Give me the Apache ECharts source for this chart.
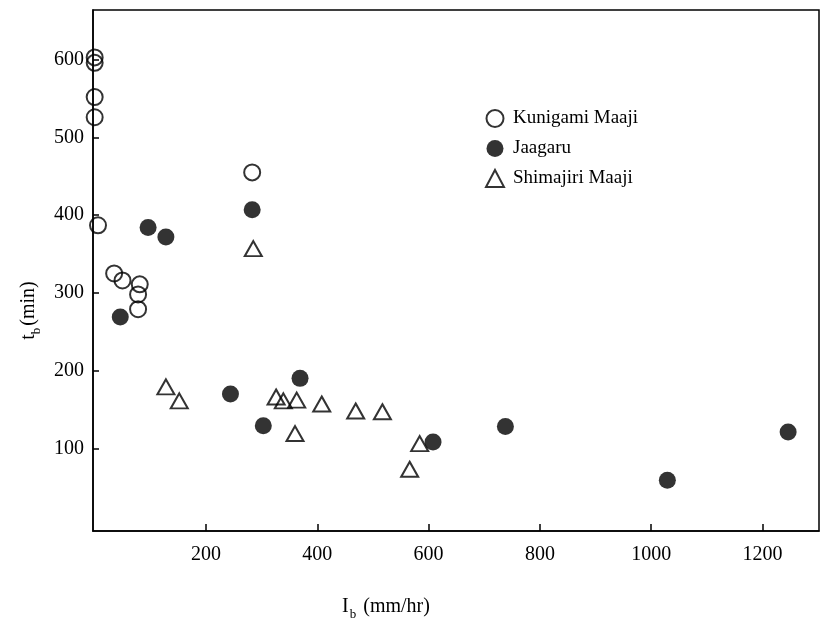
<!DOCTYPE html>
<html>
<head>
<meta charset="utf-8">
<script src="https://cdn.jsdelivr.net/npm/echarts@6/dist/echarts.min.js"></script>
<style>html,body{margin:0;padding:0;background:#fff}#c{width:821px;height:619px}</style>
</head>
<body>
<div id="c"></div>
<script>
// Kunigami Maaji (open circles)
const kunigamiX = [0, 0, 0, 0, 6, 35, 50, 81, 78, 78, 283];
const kunigamiY = [603, 596, 552, 526, 387, 325, 316, 311, 298, 279, 455];
// Jaagaru (filled circles)
const jaagaruX = [96, 128, 283, 46, 244, 303, 369, 608, 738, 1029, 1246];
const jaagaruY = [384, 372, 407, 269, 170, 129, 190, 108, 128, 59, 121];
// Shimajiri Maaji (open triangles)
const shimajiriX = [285, 128, 152, 326, 339, 363, 360, 408, 469, 517, 584, 566];
const shimajiriY = [357, 179, 161, 166, 161, 162, 119, 157, 148, 147, 106, 73];
// tick labels
const xTicks = [200, 400, 600, 800, 1000, 1200];
const yTicks = [100, 200, 300, 400, 500, 600];

const pairs = (xs, ys) => xs.map((x, i) => [x, ys[i]]);
const FONT = 'Liberation Serif';

const chart = echarts.init(document.getElementById('c'), null, {renderer: 'canvas'});
chart.setOption({
  backgroundColor: '#fff',
  animation: false,
  grid: {left: 93, right: 2, top: 10, bottom: 88, containLabel: false, outerBoundsMode: 'none',
         show: true, borderColor: '#000', borderWidth: 1.5, backgroundColor: 'transparent'},
  legend: {
    orient: 'vertical', left: 480, top: 104, itemWidth: 18, itemHeight: 17, itemGap: 11,
    textStyle: {fontFamily: FONT, fontSize: 19, color: '#000', padding: [0, 0, 0, 4]},
    data: ['Kunigami Maaji', 'Jaagaru', 'Shimajiri Maaji']
  },
  xAxis: {
    type: 'value', min: -3, max: 1301.5,
    axisLine: {show: true, onZero: false, lineStyle: {color: '#000', width: 1.5}},
    splitLine: {show: false},
    axisTick: {show: true, inside: true, length: 7, customValues: xTicks, lineStyle: {color: '#000', width: 1.5}},
    axisLabel: {customValues: xTicks, margin: 14, fontFamily: FONT, fontSize: 20, color: '#000', formatter: v => String(v)},
    name: '{i|I}{s|b}{p| (mm/hr)}', nameLocation: 'middle', nameGap: 60,
    nameTextStyle: {
      padding: [0, 140, 0, 0],
      rich: {
        i: {fontFamily: FONT, fontSize: 20, color: '#000', lineHeight: 26, verticalAlign: 'bottom'},
        s: {fontFamily: FONT, fontSize: 13, color: '#000', lineHeight: 26, verticalAlign: 'bottom', padding: [0, 2, -4, 1]},
        p: {fontFamily: FONT, fontSize: 20, color: '#000', lineHeight: 26, verticalAlign: 'bottom'}
      }
    }
  },
  yAxis: {
    type: 'value', min: -6.4, max: 664,
    axisLine: {show: true, onZero: false, lineStyle: {color: '#000', width: 1.5}},
    splitLine: {show: false},
    axisTick: {show: true, inside: true, length: 6, customValues: yTicks, lineStyle: {color: '#000', width: 1.5}},
    axisLabel: {customValues: yTicks, margin: 9, fontFamily: FONT, fontSize: 20, color: '#000', formatter: v => String(v)},
    name: '{t|t}{s|b}{p|(min)}', nameLocation: 'middle', nameGap: 42,
    nameTextStyle: {
      padding: [0, 80, 0, 0],
      rich: {
        t: {fontFamily: FONT, fontSize: 20, color: '#000', lineHeight: 26, verticalAlign: 'bottom'},
        s: {fontFamily: FONT, fontSize: 13, color: '#000', lineHeight: 26, verticalAlign: 'bottom', padding: [0, 2, -4, 0]},
        p: {fontFamily: FONT, fontSize: 20, color: '#000', lineHeight: 26, verticalAlign: 'bottom'}
      }
    }
  },
  series: [
    {
      name: 'Kunigami Maaji', type: 'scatter', symbol: 'circle', symbolSize: 16,
      itemStyle: {color: 'rgba(255,255,255,0)', borderColor: '#000', borderWidth: 2},
      data: pairs(kunigamiX, kunigamiY), z: 3
    },
    {
      name: 'Jaagaru', type: 'scatter', symbol: 'circle', symbolSize: 17,
      itemStyle: {color: '#000', borderColor: '#000', borderWidth: 0},
      data: pairs(jaagaruX, jaagaruY), z: 2
    },
    {
      name: 'Shimajiri Maaji', type: 'scatter', symbol: 'triangle', symbolSize: [17, 15],
      itemStyle: {color: 'rgba(255,255,255,0)', borderColor: '#000', borderWidth: 2},
      data: pairs(shimajiriX, shimajiriY), z: 4
    }
  ]
});
</script>
</body>
</html>
